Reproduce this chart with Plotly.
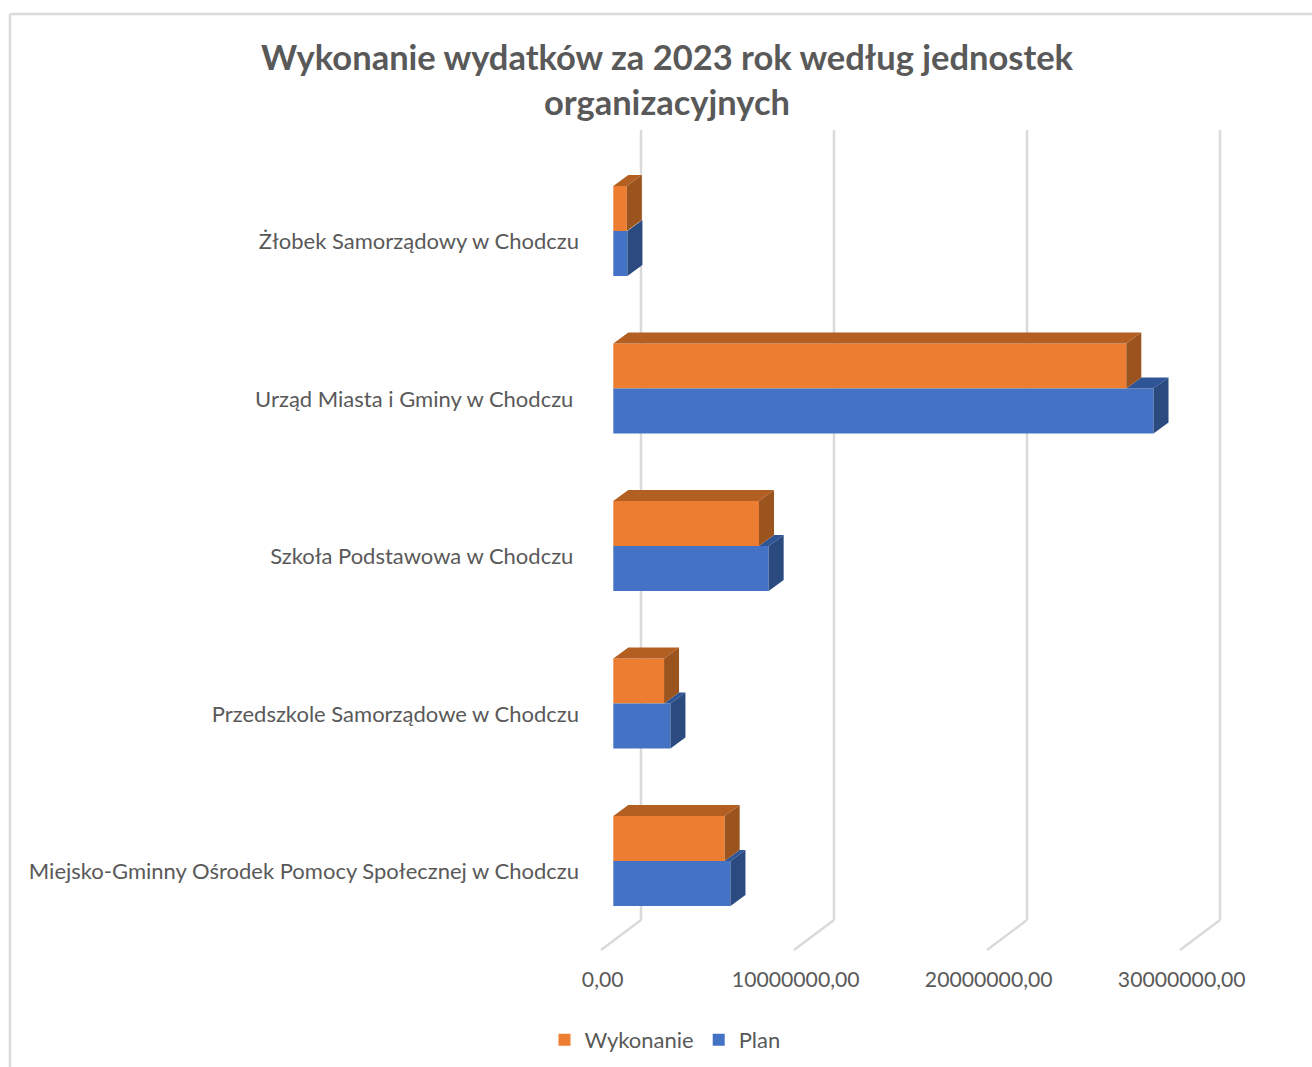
import plotly.graph_objects as go

TITLE = "Wykonanie wydatków za 2023 rok według jednostek<br>organizacyjnych"
categories = [
    "Miejsko-Gminny Ośrodek Pomocy Społecznej w Chodczu",
    "Przedszkole Samorządowe w Chodczu",
    "Szkoła Podstawowa w Chodczu\u00a0",
    "Urząd Miasta i Gminy w Chodczu\u00a0",
    "Żłobek Samorządowy w Chodczu",
]
plan = [6070000, 2960000, 8050000, 27990000, 730000]
wykonanie = [5770000, 2630000, 7550000, 26580000, 700000]
ticks = [0, 10000000, 20000000, 30000000]
tick_labels = ["0,00", "10000000,00", "20000000,00", "30000000,00"]

W, H = 1312, 1067
PX_PER_VAL = 193 / 1e7       # horizontal scale
PX_PER_CAT = 157.5           # vertical scale
X0, Y0 = 613.3, 861          # pixel of value 0 / of first category boundary
DOM_L, DOM_T, DOM_B = 596, 120, 958
BAR_W = 45 / PX_PER_CAT
DX, DY = 15 / PX_PER_VAL, 11 / PX_PER_CAT  # bar depth in data units

ORANGE, ORANGE_TOP, ORANGE_SIDE = "#ED7D31", "#B45F22", "#9C541E"
BLUE, BLUE_TOP, BLUE_SIDE = "#4472C4", "#2F5597", "#2A4A80"
GRID = "#DADADA"
TEXT = "#595959"
FONT = "Lato"

idx = list(range(len(categories)))


def polys(items):
    xs, ys = [], []
    for p in items:
        xs += [q[0] for q in p] + [p[0][0], None]
        ys += [q[1] for q in p] + [p[0][1], None]
    return xs, ys


def face(items, color):
    xs, ys = polys(items)
    return go.Scatter(x=xs, y=ys, mode="lines", fill="toself", fillcolor=color,
                      line=dict(width=0, color=color), hoverinfo="skip", showlegend=False)


def side(v, lo, hi):
    return [(v, lo), (v + DX, lo + DY), (v + DX, hi + DY), (v, hi)]


def top(a, b, y):
    return [(a, y), (a + DX, y + DY), (b + DX, y + DY), (b, y)]


fig = go.Figure()
fig.add_trace(go.Bar(name="Wykonanie", y=idx, x=wykonanie, orientation="h", width=BAR_W, offset=0,
                     marker=dict(color=ORANGE, line=dict(width=0))))
fig.add_trace(go.Bar(name="Plan", y=idx, x=plan, orientation="h", width=BAR_W, offset=-BAR_W,
                     marker=dict(color=BLUE, line=dict(width=0))))

fig.add_trace(face([top(w, p, i) for i, w, p in zip(idx, wykonanie, plan) if p > w], BLUE_TOP))
fig.add_trace(face([side(p, i - BAR_W, i) for i, p in zip(idx, plan)], BLUE_SIDE))
fig.add_trace(face([top(0, w, i + BAR_W) for i, w in zip(idx, wykonanie)], ORANGE_TOP))
fig.add_trace(face([side(w, i, i + BAR_W) for i, w in zip(idx, wykonanie)], ORANGE_SIDE))

# invisible trace that binds the shifted label axes
fig.add_trace(go.Scatter(x=ticks, y=idx[:len(ticks)], xaxis="x2", yaxis="y2", mode="markers",
                         marker=dict(size=1, opacity=0), hoverinfo="skip", showlegend=False))


def val(px):
    return (px - X0) * 1 / PX_PER_VAL


def cat(py):
    return (Y0 - py) / PX_PER_CAT


shapes = []
back = val(641) - val(X0)
front = val(601) - val(X0)
for t in ticks:
    shapes.append(dict(type="line", xref="x", yref="y", layer="below",
                       x0=t + back, x1=t + back, y0=cat(130), y1=cat(920),
                       line=dict(color=GRID, width=2.5)))
    shapes.append(dict(type="line", xref="x", yref="y", layer="below",
                       x0=t + front, x1=t + back, y0=cat(950), y1=cat(920),
                       line=dict(color=GRID, width=2.5)))
# chart-area border, cut off by the picture on the right and at the bottom
shapes.append(dict(type="line", xref="paper", yref="paper", x0=10 / W, x1=1, y0=1 - 14 / H, y1=1 - 14 / H,
                   line=dict(color=GRID, width=2.5)))
shapes.append(dict(type="line", xref="paper", yref="paper", x0=10 / W, x1=10 / W, y0=0, y1=1 - 14 / H,
                   line=dict(color=GRID, width=2.5)))

dom_x = [DOM_L / W, 1]
dom_y = [1 - DOM_B / H, 1 - DOM_T / H]
hidden = dict(showgrid=False, zeroline=False, showticklabels=False, ticks="", showline=False)

fig.update_layout(
    width=W, height=H,
    margin=dict(l=0, r=0, t=0, b=0, autoexpand=False),
    paper_bgcolor="white", plot_bgcolor="rgba(0,0,0,0)",
    barmode="overlay",
    font=dict(family=FONT, color=TEXT),
    title=dict(text=TITLE, x=667 / W, xanchor="center", y=1 - 70 / H, yanchor="top",
               font=dict(family=FONT, size=34.5, color=TEXT, weight="bold")),
    xaxis=dict(domain=dom_x, range=[val(DOM_L), val(W)], fixedrange=True, **hidden),
    yaxis=dict(domain=dom_y, range=[cat(DOM_B), cat(DOM_T)], fixedrange=True, **hidden),
    xaxis2=dict(domain=dom_x, overlaying="x", anchor="y", side="bottom",
                range=[(DOM_L - 602.7) / PX_PER_VAL, (W - 602.7) / PX_PER_VAL],
                tickmode="array", tickvals=ticks, ticktext=tick_labels,
                showgrid=False, zeroline=False, showline=False, ticks="",
                ticklabelstandoff=7, tickfont=dict(family=FONT, size=21.2, color=TEXT)),
    yaxis2=dict(domain=dom_y, overlaying="y", anchor="x", side="left",
                range=[(871.3 - DOM_B) / PX_PER_CAT, (871.3 - DOM_T) / PX_PER_CAT],
                tickmode="array", tickvals=idx, ticktext=categories,
                showgrid=False, zeroline=False, showline=False, ticks="",
                ticklabelstandoff=16, tickfont=dict(family=FONT, size=22, color=TEXT)),
    shapes=shapes,
    legend=dict(orientation="h", x=665 / W, xanchor="center", y=1 - 1040 / H, yanchor="middle",
                traceorder="normal", font=dict(family=FONT, size=22, color=TEXT),
                bgcolor="rgba(0,0,0,0)"),
    showlegend=True,
    hovermode=False,
)

fig.write_html("out.html", post_script="document.body.style.margin='0';", config=dict(displayModeBar=False))
